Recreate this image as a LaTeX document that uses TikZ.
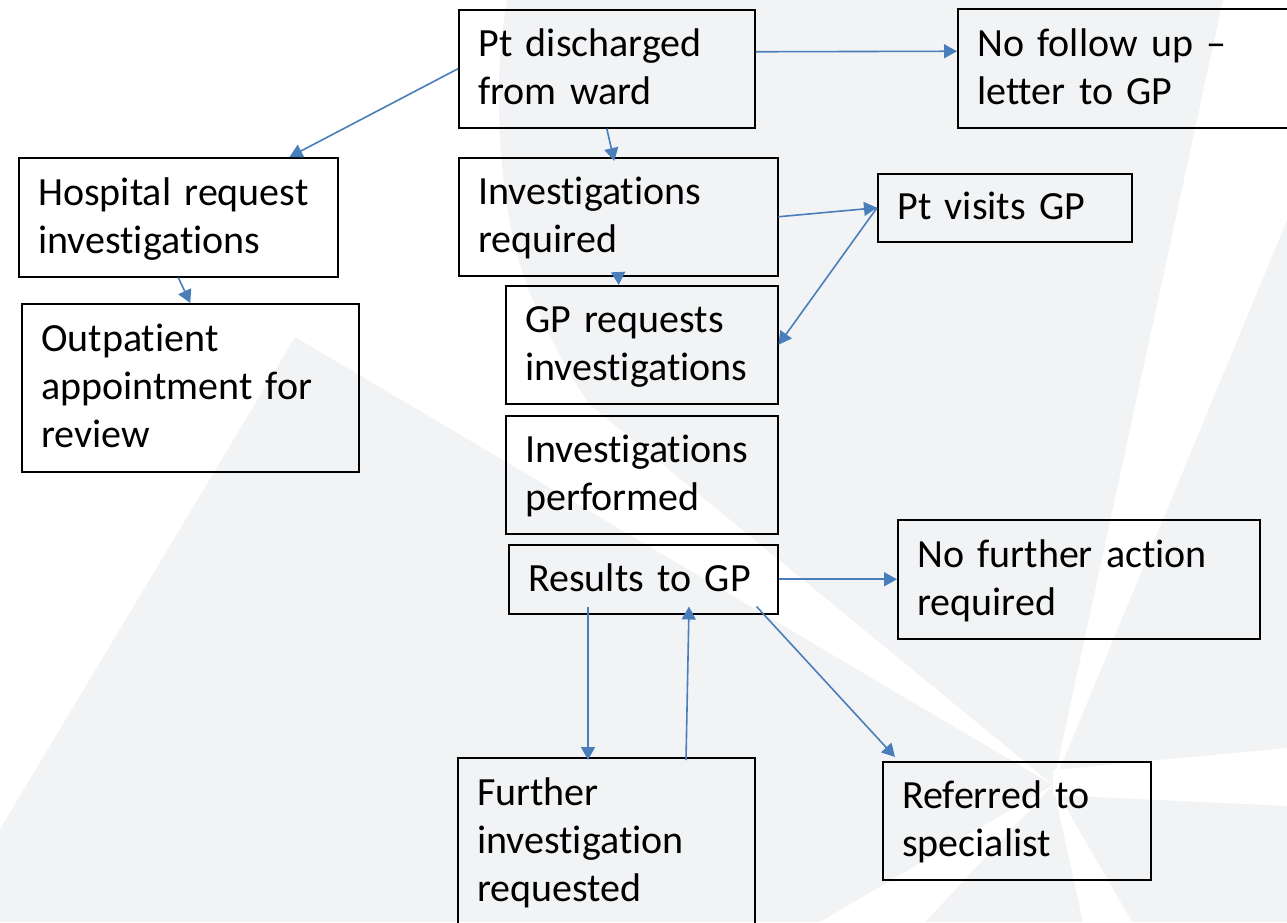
\documentclass[tikz,border=0pt]{standalone}
\usepackage{fontspec}
\setmainfont{Carlito}[Ligatures=NoCommon]
\usetikzlibrary{arrows.meta}
\definecolor{bggrey}{RGB}{242,243,245}
\definecolor{arrowblue}{RGB}{74,126,187}
\newcommand\tstrut{\rule[-12pt]{0pt}{48pt}}
\tikzset{
  box/.style={draw=black, line width=1.5pt, anchor=north west, inner xsep=19.5pt,
    inner ysep=0pt, align=left, text=black, font=\fontsize{40}{48}\selectfont},
  arr/.style={draw=arrowblue, line width=1.6pt, -{Triangle[length=13pt,width=14pt]}}
}
\begin{document}
\begin{tikzpicture}[x=1pt,y=-1pt]
\useasboundingbox (0,0) rectangle (1287,922);
\clip (0,0) rectangle (1287,922);
% background
\fill[bggrey] (0,0) rectangle (1287,922);
\fill[white] (0,0) -- (507,0) .. controls (490,90) and (500,230) .. (533,300)
  .. controls (552,340) and (570,378) .. (590,405) -- (1053,785) -- (295,337) -- (0,829) -- cycle;
\fill[white] (1053,785) -- (1223,0) -- (1287,0) -- (1287,220) -- cycle;
\fill[white] (1053,770) -- (1287,748) -- (1287,806) -- (1053,795) -- cycle;
\fill[white] (1053,785) -- (1083,922) -- (1132,922) -- cycle;
\fill[white] (1053,785) -- (820,922) -- (925,922) -- cycle;
% boxes
\node[box, text width=257pt, minimum height=118pt] (pd) at (458,9) {\tstrut Pt discharged\\from ward\tstrut};
\node[box, text width=314pt, minimum height=119pt] (nf) at (957,8) {\tstrut No follow up –\\letter to GP\tstrut};
\node[box, text width=280pt, minimum height=119pt] (hr) at (18,157) {\tstrut Hospital request\\investigations\tstrut};
\node[box, text width=298pt, minimum height=168pt] (op) at (21,303) {\tstrut Outpatient\\appointment for\\review\tstrut};
\node[box, text width=280pt, minimum height=118pt] (ir) at (458,157) {\tstrut Investigations\\required\tstrut};
\node[box, text width=215pt, minimum height=68pt] (pv) at (877,173) {\tstrut Pt visits GP\tstrut};
\node[box, text width=233pt, minimum height=118pt] (gp) at (505,285) {\tstrut GP requests\\investigations\tstrut};
\node[box, text width=233pt, minimum height=118pt] (ip) at (505,415) {\tstrut Investigations\\performed\tstrut};
\node[box, text width=230pt, minimum height=69pt] (rg) at (508,544) {\tstrut Results to GP\tstrut};
\node[box, text width=323pt, minimum height=119pt] (nfa) at (897,519) {\tstrut No further action\\required\tstrut};
\node[box, text width=229pt, minimum height=118pt] (rs) at (882,761) {\tstrut Referred to\\specialist\tstrut};
\node[box, text width=258pt, minimum height=167pt] (fi) at (457,757) {\tstrut Further\\investigation\\requested\tstrut};
% connectors
\draw[arr] (pd.west) -- ([xshift=-49pt]hr.north east);
\draw[arr] (pd.south) -- ([xshift=-4pt,yshift=-4pt]ir.north);
\draw[arr] ([yshift=17pt]pd.east) -- ([yshift=17pt]nf.west);
\draw[arr] (ir.east) -- (pv.west);
\draw[arr] (pv.west) -- (gp.east);
\draw[arr] ([yshift=2pt]ir.south) -- ([xshift=-23pt]gp.north);
\draw[arr] (hr.south) -- (op.north);
\draw[arr] (rg.east) -- (nfa.west);
\draw[arr] ([xshift=-22pt,yshift=8pt]rg.south east) -- ([xshift=13pt,yshift=4pt]rs.north west);
\draw[arr] ([xshift=80pt,yshift=8pt]rg.south west) -- ([xshift=131pt,yshift=-3pt]fi.north west);
\draw[arr] ([xshift=229pt,yshift=-3pt]fi.north west) -- ([xshift=181pt,yshift=8pt]rg.south west);
\end{tikzpicture}
\end{document}
